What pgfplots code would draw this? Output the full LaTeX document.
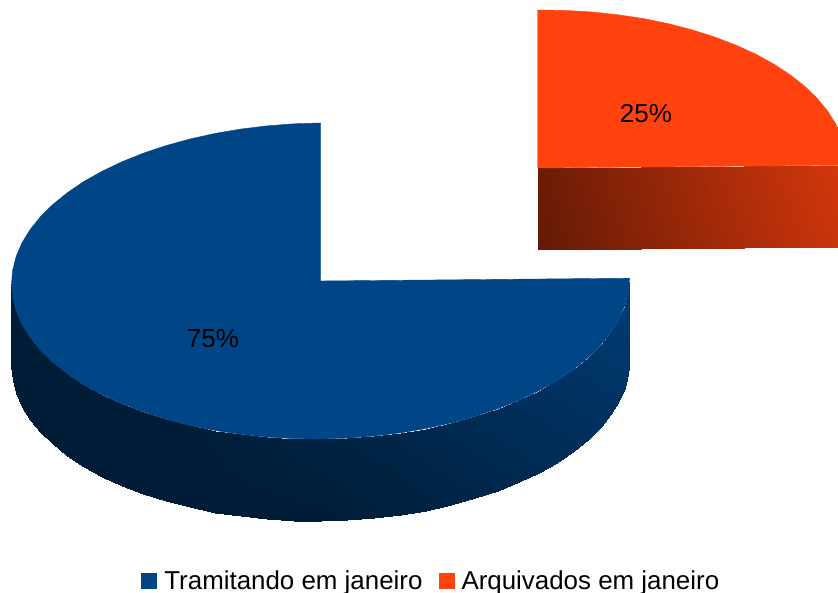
\documentclass[border=0pt]{standalone}
\usepackage{fontspec}
\setmainfont{Liberation Sans}
\usepackage{pgfplots}
\pgfplotsset{compat=1.18}
\definecolor{pieblue}{RGB}{0,69,134}
\definecolor{pieorange}{RGB}{255,66,14}
\pgfplotsset{
  colormap={blueside}{rgb255(0cm)=(0,0,0) rgb255(1cm)=(0,69,134)},
  colormap={orangeside}{rgb255(0cm)=(0,0,0) rgb255(1cm)=(255,66,14)},
}
\begin{document}
\begin{tikzpicture}
\clip (0,0) rectangle (838pt,593pt);
\begin{axis}[
  scale only axis, width=838pt, height=593pt,
  xmin=0, xmax=838, ymin=0, ymax=593, y dir=reverse,
  hide axis, point meta min=0, point meta max=1,
  legend columns=2,
  legend style={at={(axis cs:431.3,581)}, anchor=center, draw=none, fill=none,
    font=\fontsize{25.9pt}{26pt}\selectfont, inner sep=0pt, outer sep=0pt,
    /tikz/every even column/.append style={column sep=14pt},
    /tikz/every odd column/.append style={column sep=5pt}},
  legend cell align=left,
  legend image code/.code={\fill[#1,draw=none] (0pt,-8pt) rectangle (16pt,8pt);},
]
% side of the larger slice
\addplot[surf, forget plot, colormap name=blueside, shader=interp, mesh/rows=2, mesh/cols=37,
  point meta=explicit] table[x=x, y=y, meta=c] {
x y c
11.5 283.8 .400
12.7 297.6 .400
16.2 311.1 .400
22.0 324.6 .400
30.1 337.6 .400
40.5 350.3 .400
52.9 362.4 .400
67.4 373.9 .400
83.8 384.7 .400
102.0 394.7 .400
121.9 403.8 .400
143.3 412.0 .400
166.0 419.2 .405
189.9 425.4 .415
214.8 430.5 .428
240.5 434.3 .442
266.9 437.1 .457
293.6 438.6 .475
320.5 439.0 .493
347.4 438.2 .513
374.1 436.1 .534
400.5 432.9 .556
426.2 428.5 .579
451.1 423.0 .603
475.0 416.4 .626
497.7 408.8 .651
519.1 400.2 .675
539.0 390.7 .699
557.2 380.5 .723
573.6 369.3 .746
588.1 357.6 .769
600.5 345.3 .790
610.9 332.4 .812
619.0 319.2 .831
624.8 305.7 .850
628.3 292.0 .867
629.5 278.2 .882
11.5 365.8 .400
12.7 379.6 .400
16.2 393.1 .400
22.0 406.6 .400
30.1 419.6 .400
40.5 432.3 .400
52.9 444.4 .400
67.4 455.9 .400
83.8 466.7 .400
102.0 476.7 .400
121.9 485.8 .400
143.3 494.0 .400
166.0 501.2 .400
189.9 507.4 .400
214.8 512.5 .400
240.5 516.3 .400
266.9 519.1 .400
293.6 520.6 .400
320.5 521.0 .406
347.4 520.2 .426
374.1 518.1 .447
400.5 514.9 .469
426.2 510.5 .492
451.1 505.0 .516
475.0 498.4 .540
497.7 490.8 .564
519.1 482.2 .588
539.0 472.7 .612
557.2 462.5 .636
573.6 451.3 .659
588.1 439.6 .682
600.5 427.3 .704
610.9 414.4 .725
619.0 401.2 .744
624.8 387.7 .763
628.3 374.0 .780
629.5 360.2 .795
};
% cut face of the smaller slice
\addplot[surf, forget plot, colormap name=orangeside, shader=interp, mesh/rows=2, mesh/cols=2,
  point meta=explicit] table[x=x, y=y, meta=c] {
x y c
537.5 168.0 .42
846.5 165.2 .84
537.5 250.0 .39
846.5 247.2 .80
};
% top face, larger slice (75%)
\addplot[fill=pieblue, draw=pieblue, line width=0.4pt] coordinates {
 (320.5,281.0)(320.5,123.0)(293.6,123.8)(266.9,125.9)(240.5,129.1)(214.8,133.5)(189.9,139.0)
 (166.0,145.6)(143.3,153.2)(121.9,161.8)(102.0,171.3)(83.8,181.5)(67.4,192.7)(52.9,204.4)
 (40.5,216.7)(30.1,229.6)(22.0,242.8)(16.2,256.3)(12.7,270.0)(11.5,283.8)(12.7,297.6)
 (16.2,311.1)(22.0,324.6)(30.1,337.6)(40.5,350.3)(52.9,362.4)(67.4,373.9)(83.8,384.7)
 (102.0,394.7)(121.9,403.8)(143.3,412.0)(166.0,419.2)(189.9,425.4)(214.8,430.5)(240.5,434.3)
 (266.9,437.1)(293.6,438.6)(320.5,439.0)(347.4,438.2)(374.1,436.1)(400.5,432.9)(426.2,428.5)
 (451.1,423.0)(475.0,416.4)(497.7,408.8)(519.1,400.2)(539.0,390.7)(557.2,380.5)(573.6,369.3)
 (588.1,357.6)(600.5,345.3)(610.9,332.4)(619.0,319.2)(624.8,305.7)(628.3,292.0)(629.5,278.2)
 (320.5,281.0)
};
\addlegendentry{Tramitando em janeiro}
% top face, smaller slice (25%)
\addplot[fill=pieorange, draw=pieorange, line width=0.4pt] coordinates {
 (537.5,168.0)(537.5,10.0)(564.4,10.4)(591.1,11.9)(617.5,14.7)(643.2,18.5)(668.1,23.6)
 (692.0,29.8)(714.7,37.0)(736.1,45.2)(756.0,54.3)(774.2,64.3)(790.6,75.1)(805.1,86.6)
 (817.5,98.7)(827.9,111.4)(836.0,124.4)(841.8,137.9)(845.3,151.4)(846.5,165.2)
 (537.5,168.0)
};
\addlegendentry{Arquivados em janeiro}
\node[font=\fontsize{26pt}{26pt}\selectfont, inner sep=0pt] at (axis cs:646,113.5) {25\%};
\node[font=\fontsize{26pt}{26pt}\selectfont, inner sep=0pt] at (axis cs:213,338.5) {75\%};
\end{axis}
\end{tikzpicture}
\end{document}
